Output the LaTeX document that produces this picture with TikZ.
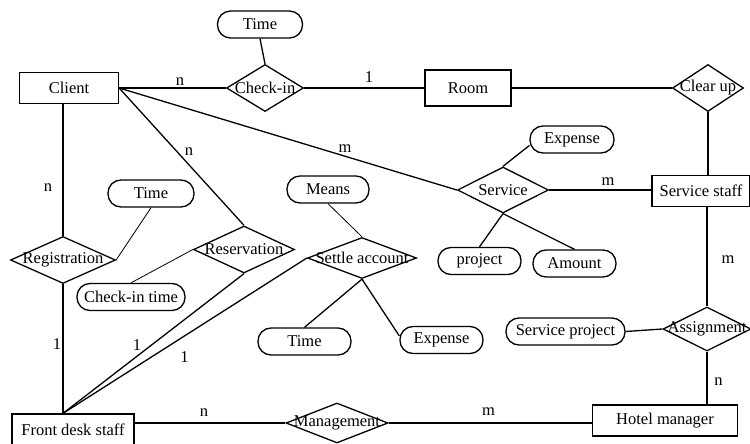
\documentclass[tikz,border=0pt]{standalone}
\usepackage{fontspec}
\setmainfont{Liberation Serif}
\usetikzlibrary{shapes}

\newcommand{\relname}[1]{\makebox[0pt]{#1}}

\begin{document}
\begin{tikzpicture}[
      x=1pt,
      y=-1pt,
      line width=1.3pt,
      every node/.style={
         font=\fontsize{16.5}{18}\selectfont,
         inner sep=0pt
      },
      entity/.style={draw, rectangle, minimum height=31pt, minimum width=#1},
      relation/.style={draw, diamond, minimum height=47pt, minimum width=#1},
      attr/.style={draw, rectangle, rounded corners=13pt, minimum height=27pt, minimum width=#1},
      thinlink/.style={line width=0.8pt}
   ]

      \useasboundingbox (0,0) rectangle (750,444);

      \node[entity=99] (client) at (69,88) {Client};
      \node[entity=86, minimum height=36pt] (room) at (468,88) {Room};
      \node[entity=98] (sstaff) at (701,191) {Service staff};
      \node[entity=122] (fdesk) at (73,429.5) {Front desk staff};
      \node[entity=145] (hmanager) at (665,420.5) {Hotel manager};

      \node[relation=77] (checkin) at (265,88) {\relname{Check-in}};
      \node[relation=71] (clearup) at (708,88) {\relname{Clear up}};
      \node[relation=91, minimum height=46pt] (service) at (503,190) {\relname{Service}};
      \node[relation=105] (registration) at (63,260) {\relname{Registration}};
      \node[relation=101] (reservation) at (244,249.5) {\relname{Reservation}};
      \node[relation=109, minimum height=41pt] (settle) at (362,258) {\relname{Settle account}};
      \node[relation=88, minimum height=44pt] (assignment) at (707,329) {\relname{Assignment}};
      \node[relation=102, minimum height=40pt] (management) at (337,423) {\relname{Management}};

      \node[attr=85] (checkintimeattr) at (260,24.5) {Time};
      \node[attr=86] (regtime) at (151,193.5) {Time};
      \node[attr=82] (means) at (328,189.5) {Means};
      \node[attr=108] (checkintime) at (131,297) {Check-in time};
      \node[attr=84] (serviceexpense) at (572,139.5) {Expense};
      \node[attr=83] (project) at (479.5,261) {project};
      \node[attr=83] (amount) at (574.5,263.5) {Amount};
      \node[attr=93] (settletime) at (304.5,341.5) {Time};
      \node[attr=83] (settleexpense) at (441.5,340) {Expense};
      \node[attr=119] (sproject) at (565.5,331.5) {Service project};

      \coordinate (fdtop) at (registration.south |- fdesk.north);

      \draw (client.east) -- (checkin.west);
      \draw (checkin.east) -- (room.west);
      \draw (room.east) -- (clearup.west);
      \draw (clearup.south) -- (clearup.south |- sstaff.north);
      \draw (checkintimeattr.south) -- (checkin.north);
      \draw (client.east) -- (service.west);
      \draw (client.east) -- (reservation.north);
      \draw (registration.north |- client.south) -- (registration.north);
      \draw[thinlink] (regtime.south) -- (registration.east);
      \draw (registration.south) -- (fdtop);
      \draw[thinlink] (reservation.west) -- (checkintime.north);
      \draw (reservation.south) -- (fdtop);
      \draw (settle.west) -- (fdtop);
      \draw[thinlink] (means.south) -- (settle.north);
      \draw (settle.south) -- (settletime.north);
      \draw (settle.south) -- ([yshift=4pt]settleexpense.west);
      \draw (service.north) -- ([yshift=-6pt]serviceexpense.west);
      \draw (service.east) -- (service.east -| sstaff.west);
      \draw (service.south) -- (project.north);
      \draw (service.south) -- (amount.north);
      \draw (assignment.north |- sstaff.south) -- (assignment.north);
      \draw (sproject.east) -- (assignment.west);
      \draw (assignment.south) -- (assignment.south |- hmanager.north);
      \draw (fdesk.east |- management.west) -- (management.west);
      \draw (management.east) -- (management.east -| hmanager.west);

      \node (card1) at (180,82) {n};
      \node (card2) at (369,77.5) {1};
      \node (card3) at (189,151.5) {n};
      \node (card4) at (345,149) {m};
      \node (card5) at (48,188) {n};
      \node (card6) at (57,344.5) {1};
      \node (card7) at (137,345) {1};
      \node (card8) at (184.5,357) {1};
      \node (card9) at (204,412.5) {n};
      \node (card10) at (488.5,412) {m};
      \node (card11) at (728,260) {m};
      \node (card12) at (718.5,382) {n};
      \node (card13) at (608,182) {m};
   \end{tikzpicture}
\end{document}
